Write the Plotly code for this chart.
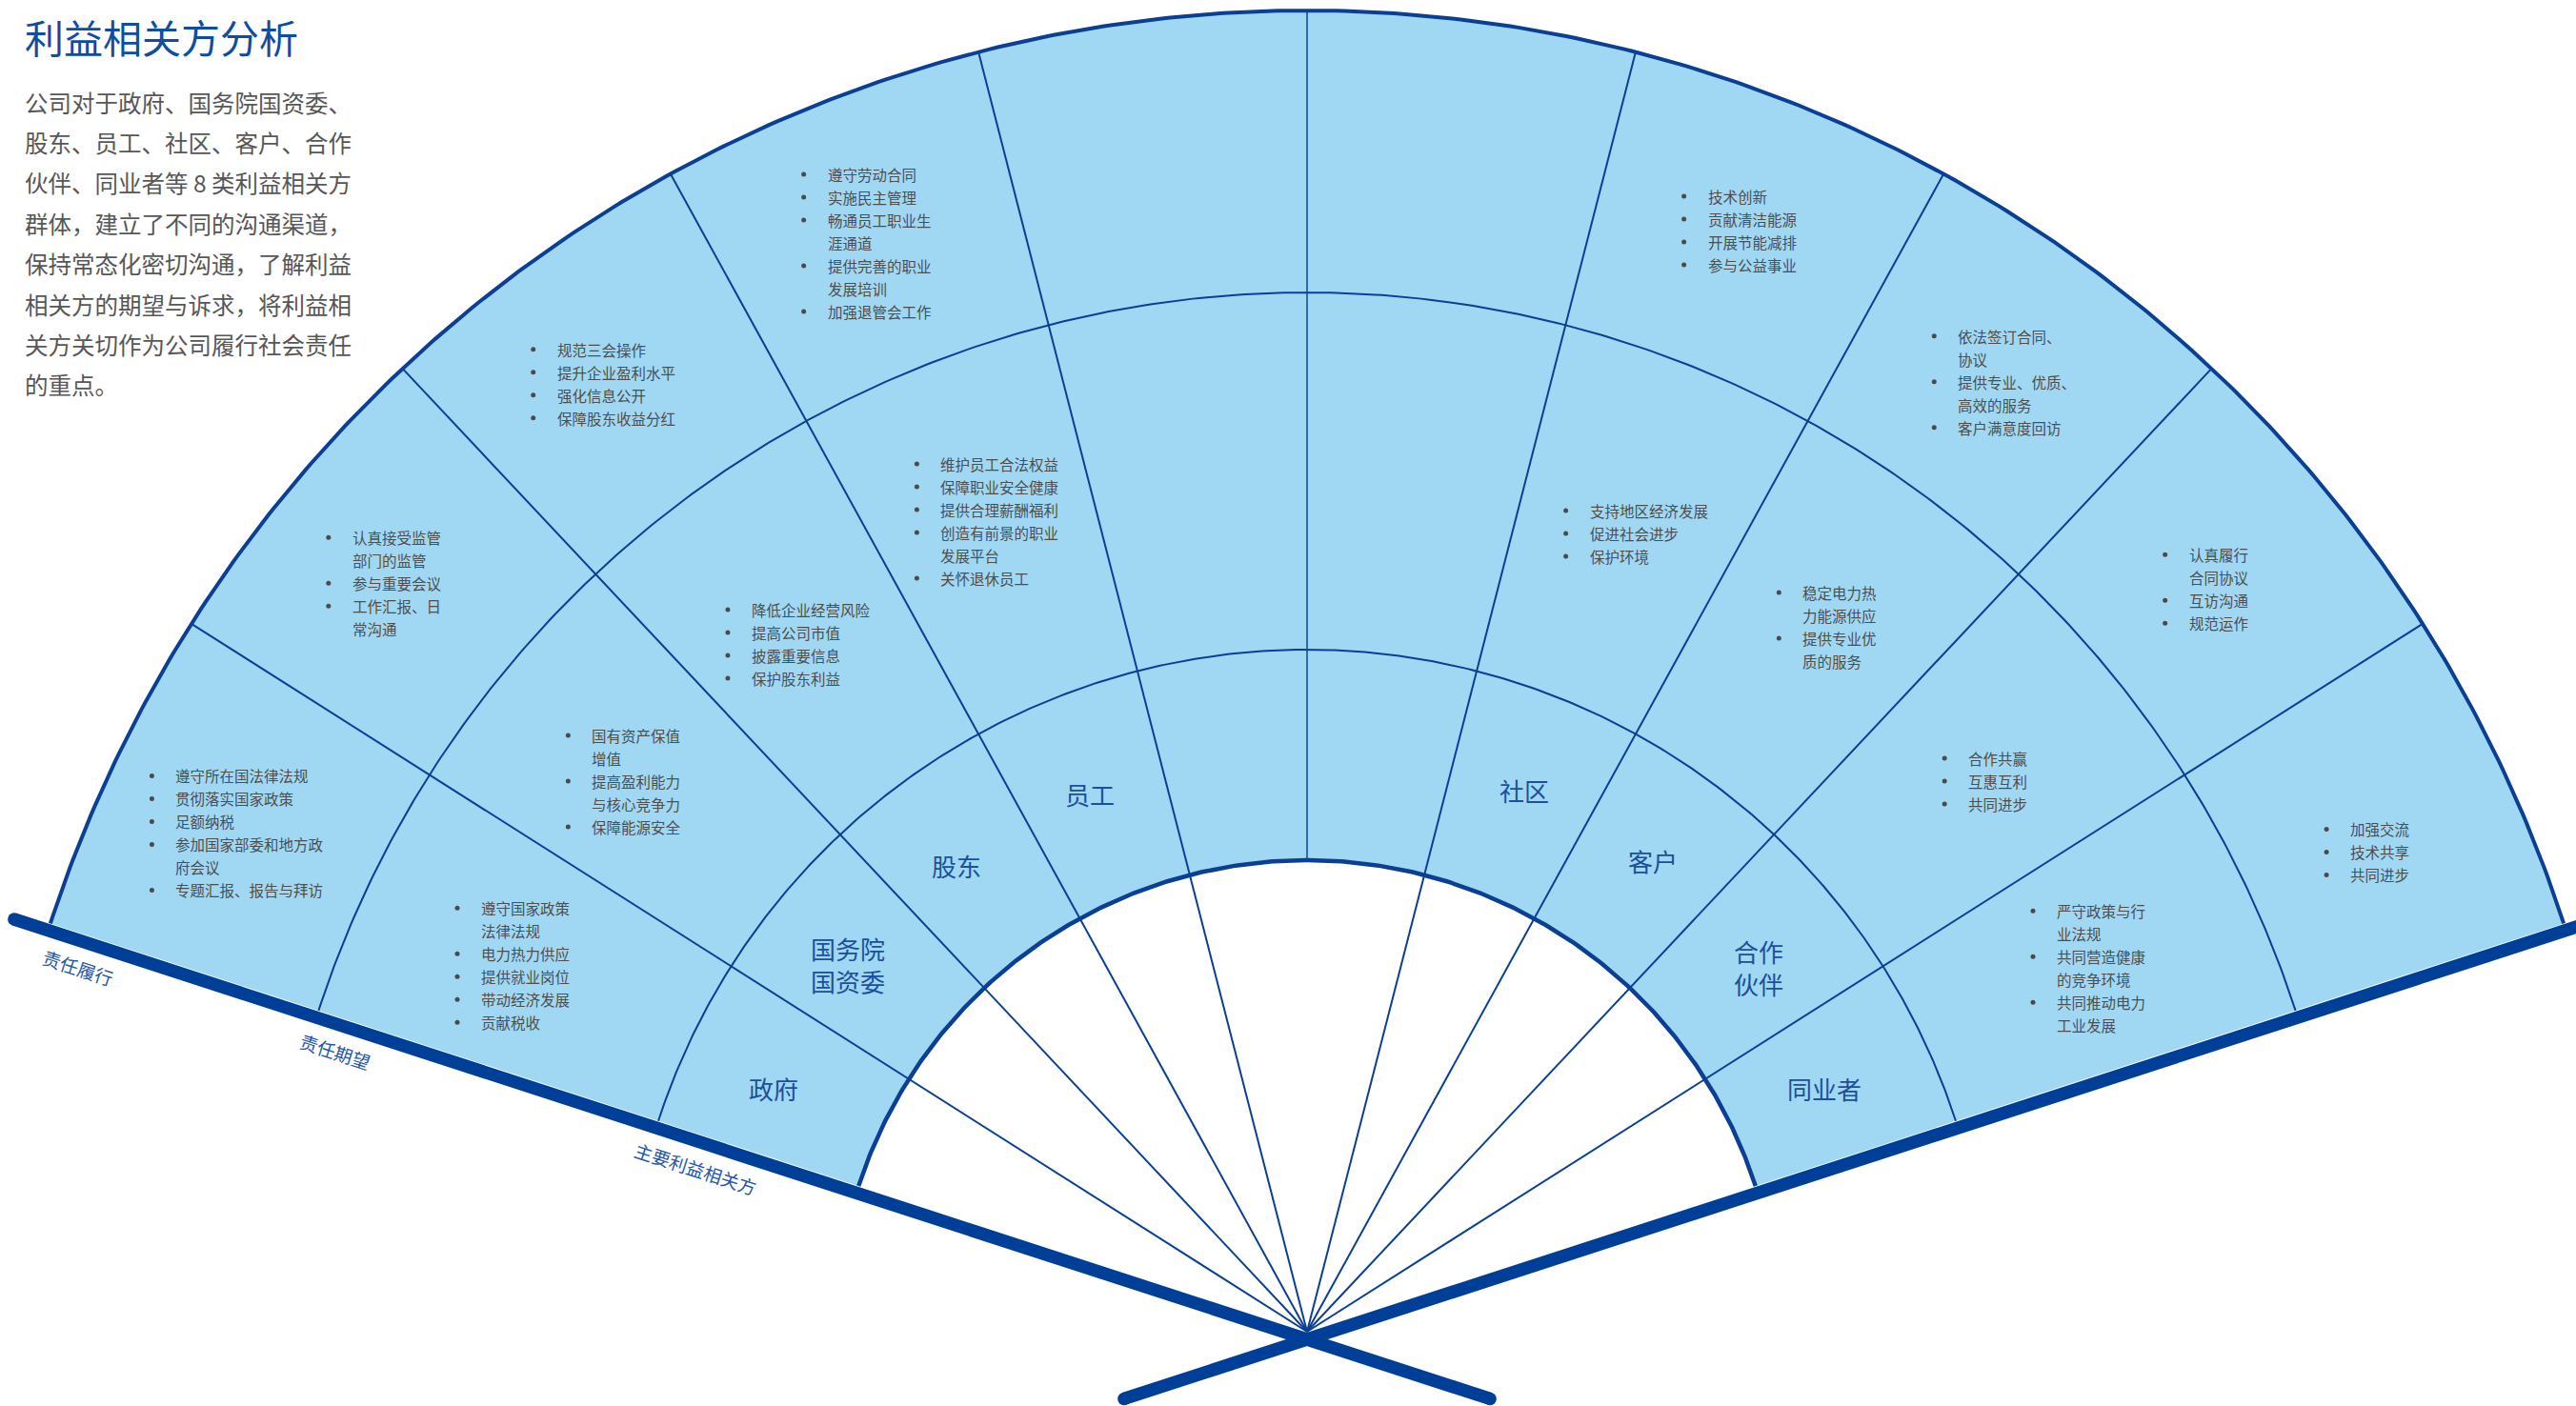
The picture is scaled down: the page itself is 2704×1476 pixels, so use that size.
import numpy as np
import plotly.graph_objects as go

# ---------------- data ----------------
title_text = "利益相关方分析"
intro_lines = [
    "公司对于政府、国务院国资委、",
    "股东、员工、社区、客户、合作",
    "伙伴、同业者等 8 类利益相关方",
    "群体，建立了不同的沟通渠道，",
    "保持常态化密切沟通，了解利益",
    "相关方的期望与诉求，将利益相",
    "关方关切作为公司履行社会责任",
    "的重点。",
]
stakeholders = ["政府", "国务院<br>国资委", "股东", "员工", "", "", "社区", "客户", "合作<br>伙伴", "同业者"]
expectations = [
    ["遵守国家政策|法律法规", "电力热力供应", "提供就业岗位", "带动经济发展", "贡献税收"],
    ["国有资产保值|增值", "提高盈利能力|与核心竞争力", "保障能源安全"],
    ["降低企业经营风险", "提高公司市值", "披露重要信息", "保护股东利益"],
    ["维护员工合法权益", "保障职业安全健康", "提供合理薪酬福利", "创造有前景的职业|发展平台", "关怀退休员工"],
    [],
    [],
    ["支持地区经济发展", "促进社会进步", "保护环境"],
    ["稳定电力热|力能源供应", "提供专业优|质的服务"],
    ["合作共赢", "互惠互利", "共同进步"],
    ["严守政策与行|业法规", "共同营造健康|的竞争环境", "共同推动电力|工业发展"],
]
fulfilment = [
    ["遵守所在国法律法规", "贯彻落实国家政策", "足额纳税", "参加国家部委和地方政|府会议", "专题汇报、报告与拜访"],
    ["认真接受监管|部门的监管", "参与重要会议", "工作汇报、日|常沟通"],
    ["规范三会操作", "提升企业盈利水平", "强化信息公开", "保障股东收益分红"],
    ["遵守劳动合同", "实施民主管理", "畅通员工职业生|涯通道", "提供完善的职业|发展培训", "加强退管会工作"],
    [],
    [],
    ["技术创新", "贡献清洁能源", "开展节能减排", "参与公益事业"],
    ["依法签订合同、|协议", "提供专业、优质、|高效的服务", "客户满意度回访"],
    ["认真履行|合同协议", "互访沟通", "规范运作"],
    ["加强交流", "技术共享", "共同进步"],
]
ring_labels = ["主要利益相关方", "责任期望", "责任履行"]

# ---------------- layout / style constants ----------------
W, H = 2704, 1476
CX, CY = 1372, 1398
R_IN, R_1, R_2, R_OUT = 495, 716, 1091, 1387
A_START, A_END = 18.0, 162.0
HANDLE_DY = 8
FONT = "Noto Sans CJK SC, Noto Sans, sans-serif"
FILL = "#a0d8f4"
NAVY = "#0a3f93"
HANDLE = "#003f98"
GREY = "#4e4e4e"
LABEL_BLUE = "#1c4f9c"
BUL_FS = 15.5
BUL_LH = 24
BUL_GAP = 26
RING_LABEL_DIST = [663, 1061, 1345]
RING_LABEL_OFF = 35
# small hand-placement nudges of text blocks (pixels), keyed by sector slot
LABEL_NUDGE = {0: (-12, 2), 1: (-15, 0), 2: (-12, 0), 3: (-5, -2),
               6: (5, -6), 7: (7, -5), 8: (7, 3), 9: (-5, 2)}
MID_NUDGE = {0: (-17, 0), 1: (-22, -2), 2: (-4, 9), 3: (-4, -11),
             6: (12, 2), 7: (14, -9), 8: (15, -2), 9: (2, 3)}
OUT_NUDGE = {0: (-3, 4), 1: (-15, 4), 2: (-11, 7), 3: (-7, 9),
             6: (-3, -4), 7: (3, 5), 8: (-12, 10), 9: (-9, 24)}

n = len(stakeholders)
step = (A_END - A_START) / n


def pt(r, a_deg, cy=CY):
    a = np.radians(a_deg)
    return CX + r * np.cos(a), cy - r * np.sin(a)


fig = go.Figure()

# fan fill
ang = np.linspace(A_START, A_END, 400)
ox, oy = pt(R_OUT, ang)
ix, iy = pt(R_IN, ang[::-1])
fig.add_trace(go.Scatter(x=np.concatenate([ox, ix]), y=np.concatenate([oy, iy]),
                         fill="toself", fillcolor=FILL, mode="none", hoverinfo="skip"))

# radial boundaries
for i in range(1, n):
    a = A_END - i * step
    left_has = stakeholders[i - 1] != ""
    right_has = stakeholders[i] != ""
    r0 = 0 if (left_has or right_has) else R_IN
    col = NAVY if (left_has or right_has) else "#2f6ab3"
    x0, y0 = pt(r0, a)
    x1, y1 = pt(R_OUT, a)
    fig.add_trace(go.Scatter(x=[x0, x1], y=[y0, y1], mode="lines",
                             line=dict(color=col, width=2), hoverinfo="skip"))

# arcs
for r, w in [(R_IN, 4.5), (R_1, 2), (R_2, 2), (R_OUT, 4)]:
    ax, ay = pt(r, ang)
    fig.add_trace(go.Scatter(x=ax, y=ay, mode="lines", line=dict(color=NAVY, width=w), hoverinfo="skip"))

# handle bars (fan edges)
for a, long_len, short_len in [(A_END, 1427, 202), (A_START, 1427, 202)]:
    xa, ya = pt(long_len, a, CY + HANDLE_DY)
    xb, yb = pt(short_len, a + 180, CY + HANDLE_DY)
    fig.add_trace(go.Scatter(x=[xa, xb], y=[ya, yb], mode="lines+markers",
                             line=dict(color=HANDLE, width=13.5),
                             marker=dict(color=HANDLE, size=13.5), hoverinfo="skip"))

annotations = []

# stakeholder labels
for k, name in enumerate(stakeholders):
    if not name:
        continue
    a = A_END - (k + 0.5) * step
    x, y = pt((R_IN + R_1) / 2, a)
    dx, dy = LABEL_NUDGE.get(k, (0, 0))
    annotations.append(dict(x=x + dx, y=y + dy, text=name, showarrow=False, xanchor="center", yanchor="middle",
                            font=dict(family=FONT, size=26, color=LABEL_BLUE)))

# bullet lists
bx, by = [], []
for items_list, radius, nudge in [(expectations, (R_1 + R_2) / 2, MID_NUDGE),
                                  (fulfilment, (R_2 + R_OUT) / 2, OUT_NUDGE)]:
    for k, items in enumerate(items_list):
        if not items:
            continue
        a = A_END - (k + 0.5) * step
        cx, cy = pt(radius, a)
        dx, dy = nudge.get(k, (0, 0))
        cx += dx
        cy += dy
        lines = []
        for it in items:
            parts = it.split("|")
            for j, p in enumerate(parts):
                lines.append((p, j == 0))
        maxc = max(len(p) for p, _ in lines)
        width = BUL_GAP + maxc * BUL_FS
        left = cx - width / 2
        top = cy - (len(lines) - 1) / 2 * BUL_LH
        for li, (p, has_bullet) in enumerate(lines):
            y = top + li * BUL_LH
            if has_bullet:
                bx.append(left + 2)
                by.append(y)
            annotations.append(dict(x=left + BUL_GAP, y=y, text=p, showarrow=False,
                                    xanchor="left", yanchor="middle", borderpad=0,
                                    font=dict(family=FONT, size=BUL_FS, color=GREY)))
fig.add_trace(go.Scatter(x=bx, y=by, mode="markers", marker=dict(color="#4a4a4a", size=5),
                         hoverinfo="skip"))

# ring labels along left edge
ux, uy = np.cos(np.radians(A_END)), -np.sin(np.radians(A_END))
nx, ny = -np.sin(np.radians(A_START)), np.cos(np.radians(A_START))
for lab, d in zip(ring_labels, RING_LABEL_DIST):
    x = CX + d * ux + RING_LABEL_OFF * nx
    y = CY + d * uy + RING_LABEL_OFF * ny
    annotations.append(dict(x=x, y=y, text=lab, showarrow=False, textangle=A_START,
                            xanchor="center", yanchor="middle",
                            font=dict(family=FONT, size=19, color="#1f58a8")))

# title and intro
annotations.append(dict(x=24, y=38, text=title_text, showarrow=False, xanchor="left", yanchor="middle",
                        font=dict(family=FONT, size=41, color="#0d4ea3")))
for i, line in enumerate(intro_lines):
    annotations.append(dict(x=24, y=107 + i * 42.4, text=line, showarrow=False,
                            xanchor="left", yanchor="middle",
                            font=dict(family=FONT, size=24.5, color="#575757")))

fig.update_layout(
    width=W, height=H, margin=dict(l=0, r=0, t=0, b=0),
    paper_bgcolor="white", plot_bgcolor="white", showlegend=False,
    xaxis=dict(range=[0, W], visible=False, fixedrange=True),
    yaxis=dict(range=[H, 0], visible=False, fixedrange=True),
    annotations=annotations,
)

fig.write_html("out.html", config={"displayModeBar": False},
               post_script="document.body.style.margin='0';document.body.style.overflow='hidden';")
